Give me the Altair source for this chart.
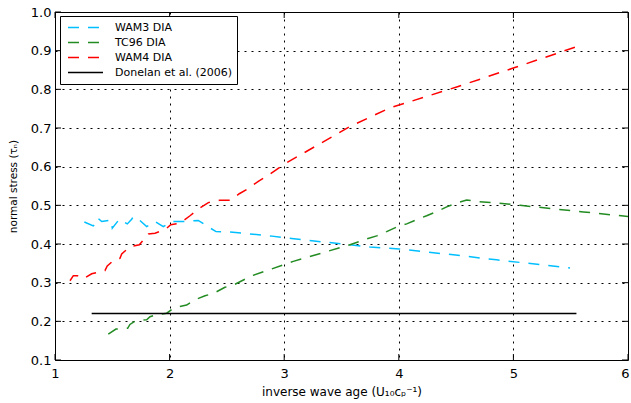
import altair as alt
import pandas as pd

# WAM3 DIA
wam3_x = [1.256, 1.334, 1.364, 1.373, 1.408, 1.49, 1.50, 1.561, 1.631, 1.669, 1.683, 1.718,
          1.80, 1.873, 1.945, 2.018, 2.106, 2.25, 2.324, 2.405, 2.527, 2.70, 2.876, 3.065,
          3.574, 3.749, 4.004, 4.476, 4.854, 5.494]
wam3_y = [0.457, 0.447, 0.456, 0.467, 0.458, 0.462, 0.441, 0.464, 0.452, 0.464, 0.471, 0.467,
          0.445, 0.458, 0.445, 0.458, 0.458, 0.461, 0.447, 0.432, 0.431, 0.426, 0.421, 0.414,
          0.398, 0.392, 0.387, 0.372, 0.359, 0.338]

# TC96 DIA
tc96_x = [1.465, 1.532, 1.634, 1.654, 1.707, 1.80, 1.829, 1.881, 1.975, 2.038, 2.149, 2.213,
          2.309, 2.387, 2.483, 2.571, 2.658, 2.70, 2.992, 3.079, 3.574, 3.72, 3.807, 3.894,
          3.982, 4.069, 4.156, 4.243, 4.331, 4.418, 4.505, 4.592, 4.685, 4.868, 5.058, 5.348,
          5.61, 6.0]
tc96_y = [0.167, 0.180, 0.182, 0.192, 0.202, 0.204, 0.212, 0.217, 0.221, 0.235, 0.242, 0.255,
          0.266, 0.273, 0.288, 0.296, 0.309, 0.316, 0.346, 0.355, 0.398, 0.413, 0.421, 0.432,
          0.444, 0.452, 0.463, 0.473, 0.484, 0.496, 0.506, 0.514, 0.510, 0.506, 0.500, 0.491,
          0.483, 0.471]

# WAM4 DIA
wam4_x = [1.131, 1.160, 1.195, 1.247, 1.320, 1.399, 1.436, 1.456, 1.524, 1.567, 1.582, 1.654,
          1.736, 1.80, 1.814, 1.873, 1.96, 2.01, 2.09, 2.178, 2.265, 2.338, 2.434, 2.527,
          2.608, 2.678, 2.774, 2.847, 2.92, 2.992, 3.574, 3.923, 4.505, 4.999, 5.61]
wam4_y = [0.305, 0.318, 0.318, 0.310, 0.323, 0.329, 0.331, 0.343, 0.361, 0.363, 0.374, 0.393,
          0.398, 0.421, 0.426, 0.428, 0.437, 0.450, 0.454, 0.473, 0.493, 0.507, 0.513, 0.513,
          0.530, 0.542, 0.562, 0.575, 0.590, 0.605, 0.704, 0.752, 0.806, 0.855, 0.916]

# Donelan et al. (2006) reference level
donelan_x = [1.32, 5.55]
donelan_y = [0.22, 0.22]

names = ["WAM3 DIA", "TC96 DIA", "WAM4 DIA", "Donelan et al. (2006)"]
colors = ["#00bfff", "#228b22", "#ff0000", "#000000"]
dashes = [[11, 9], [11, 9], [11, 9], [1, 0]]

x_ticks = [1, 2, 3, 4, 5, 6]
y_ticks = [0.1, 0.2, 0.3, 0.4, 0.5, 0.6, 0.7, 0.8, 0.9, 1.0]

rows = []
for name, xs, ys in zip(names, [wam3_x, tc96_x, wam4_x, donelan_x],
                        [wam3_y, tc96_y, wam4_y, donelan_y]):
    for i, (xv, yv) in enumerate(zip(xs, ys)):
        rows.append({"series": name, "x": xv, "y": yv, "order": i})
df = pd.DataFrame(rows)

W, H = 573, 348
TICK = 6

x_scale = alt.Scale(domain=[1, 6], nice=False, zero=False)
y_scale = alt.Scale(domain=[0.1, 1.0], nice=False, zero=False)

x_axis = alt.Axis(
    title="inverse wave age (U₁₀cₚ⁻¹)", values=x_ticks, format="d",
    ticks=False, domain=False, grid=True, gridColor="#000000", gridDash=[2, 5],
    gridWidth=1, labelPadding=7, labelFontSize=13, titleFontSize=12,
    titlePadding=6, labelFlush=False, labelOverlap=False,
    # keep the last label inside the canvas
    labelOffset={"condition": {"test": "datum.value == 6", "value": -3}, "value": 0},
)
y_axis = alt.Axis(
    title="normal stress (τₙ)", values=y_ticks, format=".1f",
    ticks=False, domain=False, grid=True, gridColor="#000000", gridDash=[2, 5],
    gridWidth=1, labelPadding=4, labelFontSize=13, titleFontSize=10.5,
    titlePadding=12, labelFlush=False, labelOverlap=False,
)

x_enc = alt.X("x:Q", scale=x_scale, axis=x_axis)
y_enc = alt.Y("y:Q", scale=y_scale, axis=y_axis)

lines = alt.Chart(df).mark_line(strokeWidth=1.5, clip=True).encode(
    x=x_enc,
    y=y_enc,
    color=alt.Color("series:N", sort=names,
                    scale=alt.Scale(domain=names, range=colors),
                    legend=alt.Legend(title=None)),
    strokeDash=alt.StrokeDash("series:N", sort=names,
                              scale=alt.Scale(domain=names, range=dashes),
                              legend=alt.Legend(title=None)),
    order="order:Q",
)

# inward-pointing ticks on all four sides of the frame
xt = pd.DataFrame({"x": x_ticks})
yt = pd.DataFrame({"y": y_ticks})
tick_bottom = alt.Chart(xt).mark_rule(color="#000000", strokeWidth=1).encode(
    x=x_enc, y=alt.value(H), y2=alt.value(H - TICK))
tick_top = alt.Chart(xt).mark_rule(color="#000000", strokeWidth=1).encode(
    x=x_enc, y=alt.value(0), y2=alt.value(TICK))
tick_left = alt.Chart(yt).mark_rule(color="#000000", strokeWidth=1).encode(
    y=y_enc, x=alt.value(0), x2=alt.value(TICK))
tick_right = alt.Chart(yt).mark_rule(color="#000000", strokeWidth=1).encode(
    y=y_enc, x=alt.value(W - TICK), x2=alt.value(W))

chart = alt.layer(lines, tick_bottom, tick_top, tick_left, tick_right).properties(
    width=W, height=H,
    autosize=alt.AutoSizeParams(type="none"),
    padding={"left": 55, "top": 12, "right": 3, "bottom": 43},
    background="white",
).configure_view(
    stroke="#000000", strokeWidth=1,
).configure_axis(
    labelFont="DejaVu Sans", titleFont="DejaVu Sans",
    labelColor="#000000", titleColor="#000000", titleFontWeight="normal",
).configure_legend(
    orient="none", legendX=5, legendY=4,
    strokeColor="#000000", fillColor="#ffffff", padding=4,
    symbolType="stroke", symbolSize=1225, symbolStrokeWidth=1.5,
    clipHeight=15, rowPadding=0, symbolOffset=3, labelOffset=11,
    labelFont="DejaVu Sans", labelFontSize=11, labelColor="#000000",
    labelLimit=300, cornerRadius=0,
)

chart.save("out.html", embed_options={"renderer": "svg", "actions": False})
